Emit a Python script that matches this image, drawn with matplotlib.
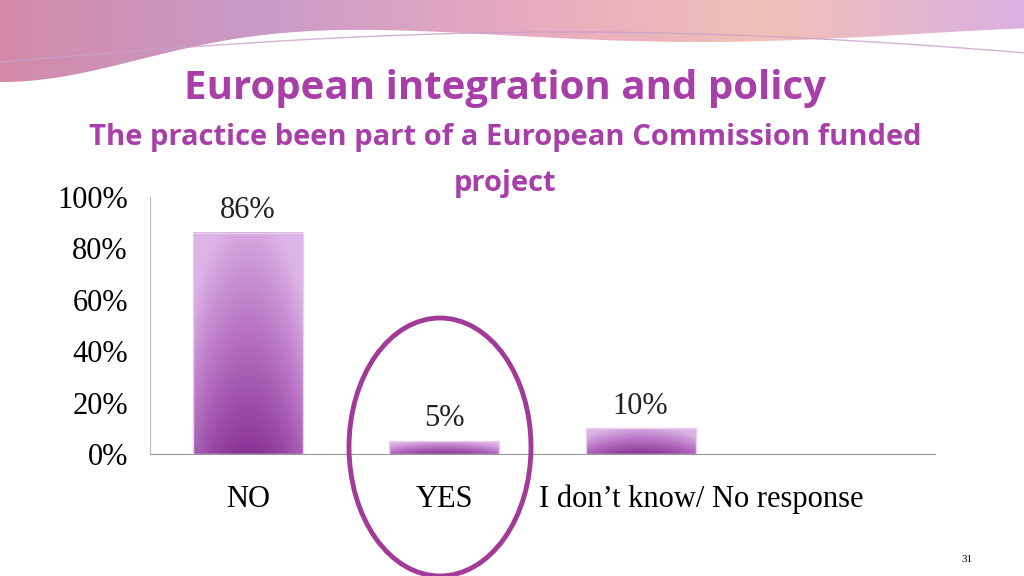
import numpy as np
import matplotlib
matplotlib.use("Agg")
import matplotlib.pyplot as plt
import matplotlib.transforms as mtransforms
from matplotlib.patches import Ellipse, Polygon
from matplotlib.colors import LinearSegmentedColormap

categories = ["NO", "YES", "I don\u2019t know/ No response", ""]
values = [86, 5, 10, None]
labels = ["86%", "5%", "10%", ""]
ticks = [0, 20, 40, 60, 80, 100]

W, H = 1024, 576
fig = plt.figure(figsize=(W/100, H/100), dpi=100)
fig.patch.set_facecolor("white")

# decorative top band
bg = fig.add_axes([0, 0, 1, 1], zorder=-5)
bg.set_xlim(0, W); bg.set_ylim(H, 0); bg.axis("off")
xs = np.linspace(0, W, 200)
top_lower = 22 + 60*np.exp(-((xs-0)/200)**2) + 20*np.exp(-((xs-700)/300)**2)
grad = np.linspace(0, 1, 256).reshape(1, -1)
cm = LinearSegmentedColormap.from_list("b", ["#d48aa8", "#c99ac8", "#e7a9c0", "#f2c0b8", "#d9b0e0"])
im = bg.imshow(grad, cmap=cm, extent=[0, W, 0, 90], aspect="auto", zorder=-4)
poly = Polygon(np.column_stack([np.r_[xs, xs[::-1]], np.r_[top_lower, np.zeros_like(xs)]]),
               closed=True, transform=bg.transData)
im.set_clip_path(poly)
bg.plot(xs, 62 - 30*np.sin(xs/W*np.pi*0.9), color="#c9a0c8", lw=1.0, alpha=0.8)

ax = fig.add_axes([150/W, 1-454/H, 785/W, 257/H])
ax.set_xlim(-0.5, 3.5)
ax.set_ylim(0, 100)
cmap = LinearSegmentedColormap.from_list("p", ["#8a3596", "#b872c4", "#dcb4e6"])
for i, v in enumerate(values):
    if v is None:
        continue
    x0, x1 = i - 0.28, i + 0.28
    yy = np.linspace(0, 1, 100).reshape(-1, 1)
    xx = np.linspace(-1, 1, 60).reshape(1, -1)
    g = np.clip(yy*0.9 + 0.35*np.abs(xx)**2, 0, 1)
    ax.imshow(g, cmap=cmap, extent=[x0, x1, 0, v], origin="lower", aspect="auto", zorder=2)
    ax.add_patch(plt.Rectangle((x0, 0), x1-x0, v, fill=False, ec="#e8d0ec", lw=1, zorder=3))
    ax.text(i, v + 3, labels[i], ha="center", va="bottom", fontsize=22,
            family="Liberation Serif", color="#222222")
ax.set_yticks(ticks)
ax.set_yticklabels([f"{t}%" for t in ticks], fontsize=22, family="Liberation Serif")
ax.set_xticks(range(4))
ax.set_xticklabels(categories, fontsize=22, family="Liberation Serif")
ax.tick_params(length=0, pad=16)
ax.tick_params(axis="x", pad=22)
lab = ax.get_xticklabels()[2]
lab.set_ha("left")
lab.set_transform(lab.get_transform() + mtransforms.ScaledTranslation(-1.02, 0, fig.dpi_scale_trans))
for s in ["top", "right"]:
    ax.spines[s].set_visible(False)
ax.spines["left"].set_color("#bbbbbb")
ax.spines["bottom"].set_color("#999999")

fig.text(505/W, 1-88/H, "European integration and policy", ha="center", va="center",
         fontsize=29, fontweight="bold", family="Open Sans", color="#a83fa8")
fig.text(505/W, 1-138/H, "The practice been part of a European Commission funded",
         ha="center", va="center", fontsize=21, fontweight="bold", family="Open Sans", color="#a83fa8")
fig.text(505/W, 1-184/H, "project", ha="center", va="center",
         fontsize=21, fontweight="bold", family="Open Sans", color="#a83fa8")

ov = fig.add_axes([0, 0, 1, 1], zorder=10)
ov.set_xlim(0, W); ov.set_ylim(H, 0); ov.axis("off"); ov.patch.set_alpha(0)
ov.add_patch(Ellipse((440, 447), 182, 258, fill=False, ec="#a23a98", lw=3.5))
fig.text(967/W, 1-560/H, "31", ha="center", va="center", fontsize=8, family="Liberation Serif")

fig.savefig("out.png", dpi=100)
